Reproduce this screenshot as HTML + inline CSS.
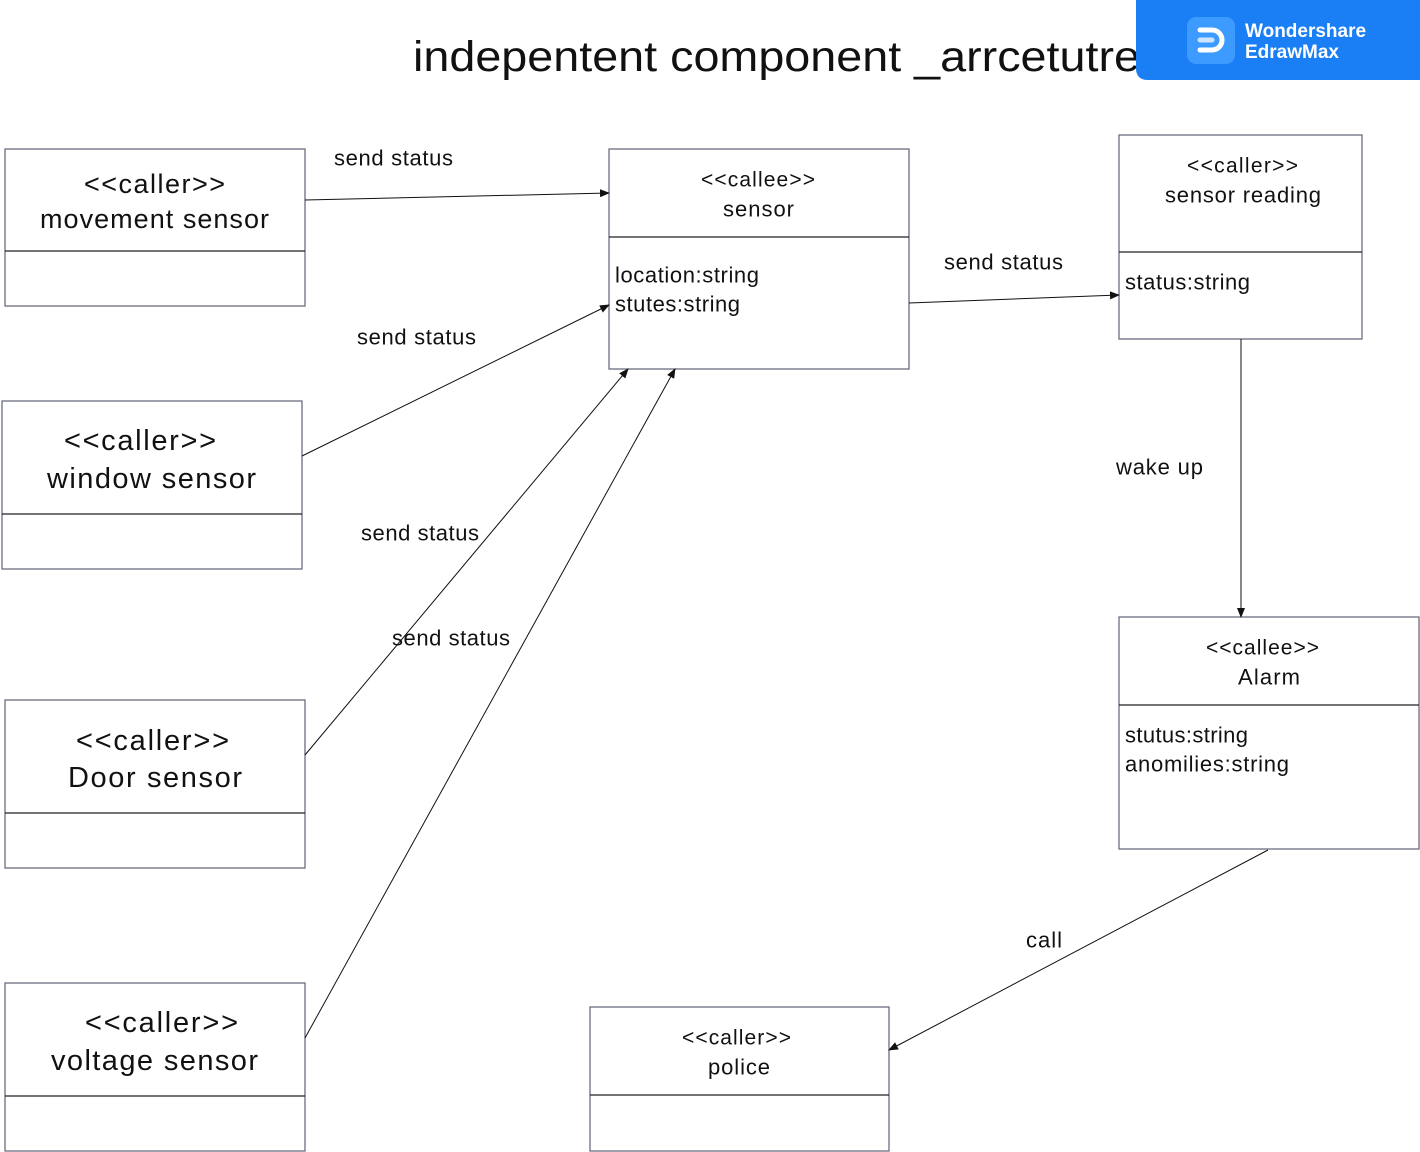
<!DOCTYPE html>
<html><head><meta charset="utf-8"><style>
html,body{margin:0;padding:0;background:#fff;}
svg{display:block;}
text{font-family:"Liberation Sans","DejaVu Sans",sans-serif;fill:#111;}
</style></head><body>
<svg width="1420" height="1152" viewBox="0 0 1420 1152" xmlns="http://www.w3.org/2000/svg">
<defs>
<marker id="a" markerWidth="10" markerHeight="8" refX="9" refY="4" orient="auto" markerUnits="userSpaceOnUse">
<path d="M0,0 L10,4 L0,8 z" fill="#111"/></marker>
</defs>
<text x="413" y="71" font-size="43" textLength="727" lengthAdjust="spacingAndGlyphs">indepentent component _arrcetutre</text>

<!-- badge -->
<path d="M1136,0 H1420 V80 H1148 Q1136,80 1136,68 Z" fill="#1a7ef5"/>
<rect x="1187" y="17" width="48" height="47" rx="9" fill="#3d9bff"/>
<path d="M1200,30 H1212 A10,10 0 0 1 1212,50 H1200" fill="none" stroke="#fff" stroke-width="5" stroke-linecap="round"/>
<line x1="1200" y1="40" x2="1212" y2="40" stroke="#cfe4ff" stroke-width="5" stroke-linecap="round"/>
<text x="1245" y="37" font-size="19" font-weight="bold" style="fill:#fff">Wondershare</text>
<text x="1245" y="58" font-size="19" font-weight="bold" style="fill:#fff">EdrawMax</text>

<g fill="#fff" stroke="#6a6e80" stroke-width="1.3">
<rect x="5" y="149" width="300" height="157"/>
<rect x="2" y="401" width="300" height="168"/>
<rect x="5" y="700" width="300" height="168"/>
<rect x="5" y="983" width="300" height="168"/>
<rect x="609" y="149" width="300" height="220"/>
<rect x="1119" y="135" width="243" height="204"/>
<rect x="1119" y="617" width="300" height="232"/>
<rect x="590" y="1007" width="299" height="144"/>
</g>
<g stroke="#222" stroke-width="1.3">
<line x1="5" y1="251" x2="305" y2="251"/>
<line x1="2" y1="514" x2="302" y2="514"/>
<line x1="5" y1="813" x2="305" y2="813"/>
<line x1="5" y1="1096" x2="305" y2="1096"/>
<line x1="609" y1="237" x2="909" y2="237"/>
<line x1="1119" y1="252" x2="1362" y2="252"/>
<line x1="1119" y1="705" x2="1419" y2="705"/>
<line x1="590" y1="1095" x2="889" y2="1095"/>
</g>

<g dominant-baseline="central" lengthAdjust="spacingAndGlyphs">
<text x="84" y="184" font-size="27" textLength="141">&lt;&lt;caller&gt;&gt;</text>
<text x="40" y="219" font-size="27" textLength="229">movement sensor</text>
<text x="64" y="441" font-size="29" textLength="152">&lt;&lt;caller&gt;&gt;</text>
<text x="47" y="479" font-size="29" textLength="209">window sensor</text>
<text x="76" y="741" font-size="29" textLength="153">&lt;&lt;caller&gt;&gt;</text>
<text x="68" y="778" font-size="29" textLength="174">Door sensor</text>
<text x="85" y="1023" font-size="29" textLength="153">&lt;&lt;caller&gt;&gt;</text>
<text x="51" y="1061" font-size="29" textLength="207">voltage sensor</text>
<text x="701" y="180" font-size="21" textLength="114">&lt;&lt;callee&gt;&gt;</text>
<text x="723" y="209" font-size="22" textLength="71">sensor</text>
<text x="1187" y="166" font-size="21" textLength="111">&lt;&lt;caller&gt;&gt;</text>
<text x="1165" y="195" font-size="22" textLength="156">sensor reading</text>
<text x="1206" y="648" font-size="21" textLength="113">&lt;&lt;callee&gt;&gt;</text>
<text x="1238" y="677" font-size="22" textLength="62">Alarm</text>
<text x="682" y="1038" font-size="21" textLength="109">&lt;&lt;caller&gt;&gt;</text>
<text x="708" y="1067" font-size="22" textLength="62">police</text>
<text x="615" y="275" font-size="22" textLength="144">location:string</text>
<text x="615" y="304" font-size="22" textLength="125">stutes:string</text>
<text x="1125" y="282" font-size="22" textLength="125">status:string</text>
<text x="1125" y="735" font-size="22" textLength="123">stutus:string</text>
<text x="1125" y="764" font-size="22" textLength="164">anomilies:string</text>
<text x="334" y="158" font-size="22" textLength="119">send status</text>
<text x="357" y="337" font-size="22" textLength="119">send status</text>
<text x="361" y="533" font-size="22" textLength="118">send status</text>
<text x="392" y="638" font-size="22" textLength="118">send status</text>
<text x="944" y="262" font-size="22" textLength="119">send status</text>
<text x="1116" y="467" font-size="22" textLength="87">wake up</text>
<text x="1026" y="940" font-size="22" textLength="36">call</text>
</g>

<g stroke="#111" stroke-width="1" marker-end="url(#a)">
<line x1="305" y1="200" x2="609" y2="193"/>
<line x1="302" y1="456" x2="609" y2="305"/>
<line x1="305" y1="755" x2="628" y2="369"/>
<line x1="305" y1="1038" x2="675" y2="369"/>
<line x1="909" y1="303" x2="1119" y2="295"/>
<line x1="1241" y1="339" x2="1241" y2="617"/>
<line x1="1268" y1="850" x2="889" y2="1050"/>
</g>
</svg>
</body></html>
